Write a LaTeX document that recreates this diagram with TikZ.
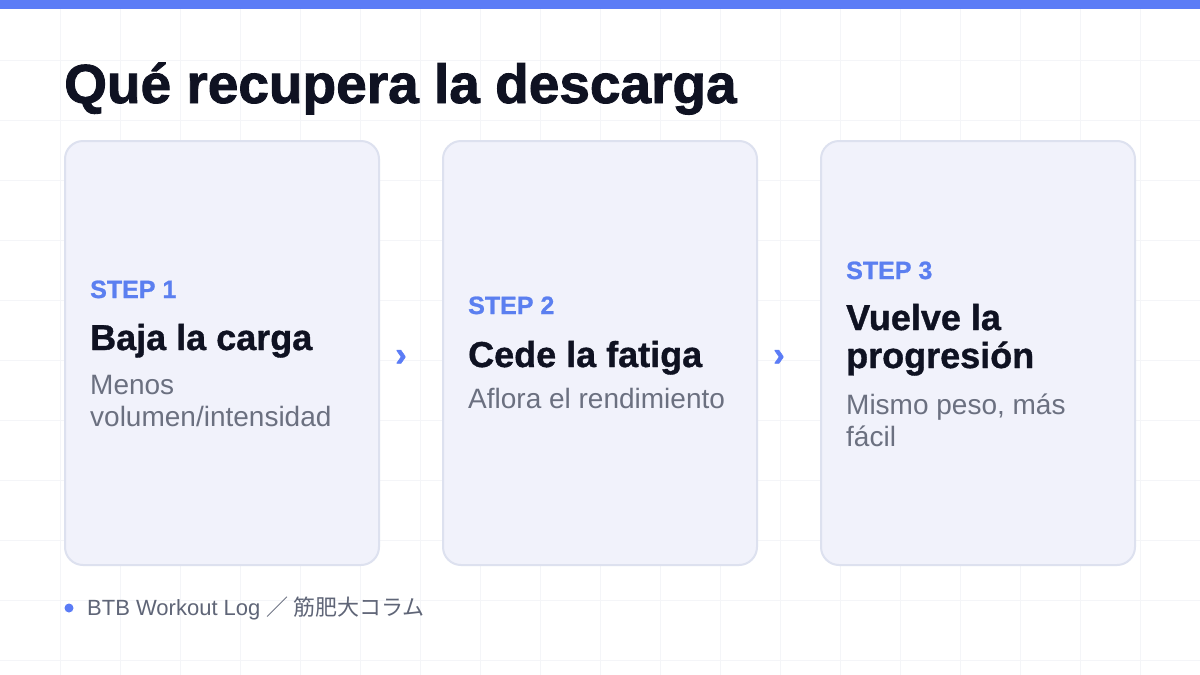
\documentclass[tikz,border=0pt]{standalone}
\usepackage{fontspec}
\setmainfont{Liberation Sans}
\newfontfamily\cjkfont{Noto Sans CJK JP}
\newfontfamily\heavyfont[FakeBold=1.6]{Liberation Sans Bold}
\newfontfamily\semiheavyfont[FakeBold=1.0]{Liberation Sans Bold}
\definecolor{topblue}{HTML}{5B7CF6}
\definecolor{stepblue}{HTML}{5B7FF0}
\definecolor{titleink}{HTML}{0F1222}
\definecolor{bodygray}{HTML}{6B7080}
\definecolor{footgray}{HTML}{5F6577}
\definecolor{cardfill}{HTML}{F1F2FB}
\definecolor{cardline}{HTML}{DDE1EF}
\definecolor{gridline}{HTML}{F4F5F8}
\tikzset{
  card/.style={draw=cardline, line width=2pt, fill=cardfill, rounded corners=18pt},
  steplabel/.style={anchor=base west, inner sep=0pt, text=stepblue, font=\fontsize{25}{29}\selectfont\semiheavyfont},
  heading/.style={anchor=base west, inner sep=0pt, text=titleink, align=left, font=\fontsize{36}{38}\selectfont\semiheavyfont},
  bodytext/.style={anchor=base west, inner sep=0pt, text=bodygray, align=left, font=\fontsize{28}{32}\selectfont},
  chevron/.style={inner sep=0pt, text=topblue, font=\fontsize{34}{34}\selectfont\heavyfont},
}
\begin{document}
\begin{tikzpicture}[x=1pt,y=-1pt]
\useasboundingbox (0,0) rectangle (1200,675);
\fill[white] (0,0) rectangle (1200,675);
\foreach \gx in {60,120,...,1180} \draw[gridline, line width=1pt] (\gx,0) -- (\gx,675);
\foreach \gy in {60,120,...,660} \draw[gridline, line width=1pt] (0,\gy) -- (1200,\gy);
\fill[topblue] (0,0) rectangle (1200,9);
\node[anchor=base west, inner sep=0pt, text=titleink, font=\fontsize{55}{60}\selectfont\heavyfont] (title) at (64,103) {Qué recupera la descarga};
% cards
\draw[card] (65,141) rectangle (379,565);
\draw[card] (443,141) rectangle (757,565);
\draw[card] (821,141) rectangle (1135,565);
% card 1
\node[steplabel] (s1) at (90,298) {STEP 1};
\node[heading] (h1) at (90,350) {Baja la carga};
\node[bodytext] (b1) at (90,426) {Menos\\volumen/intensidad};
% card 2
\node[steplabel] (s2) at (468,314) {STEP 2};
\node[heading] (h2) at (468,367) {Cede la fatiga};
\node[bodytext] (b2) at (468,408) {Aflora el rendimiento};
% card 3
\node[steplabel] (s3) at (846,279) {STEP 3};
\node[heading] (h3) at (846,368) {Vuelve la\\progresión};
\node[bodytext] (b3) at (846,446) {Mismo peso, más\\fácil};
% chevrons
\node[chevron] (ch1) at (401,358) {›};
\node[chevron] (ch2) at (779,358) {›};
% footer
\fill[topblue] (69,608) circle (4.5);
\node[anchor=base west, inner sep=0pt, text=footgray, font=\fontsize{22}{26}\selectfont] (foot) at (87,615) {BTB Workout Log {\cjkfont ／ 筋肥大コラム}};
\end{tikzpicture}
\end{document}
